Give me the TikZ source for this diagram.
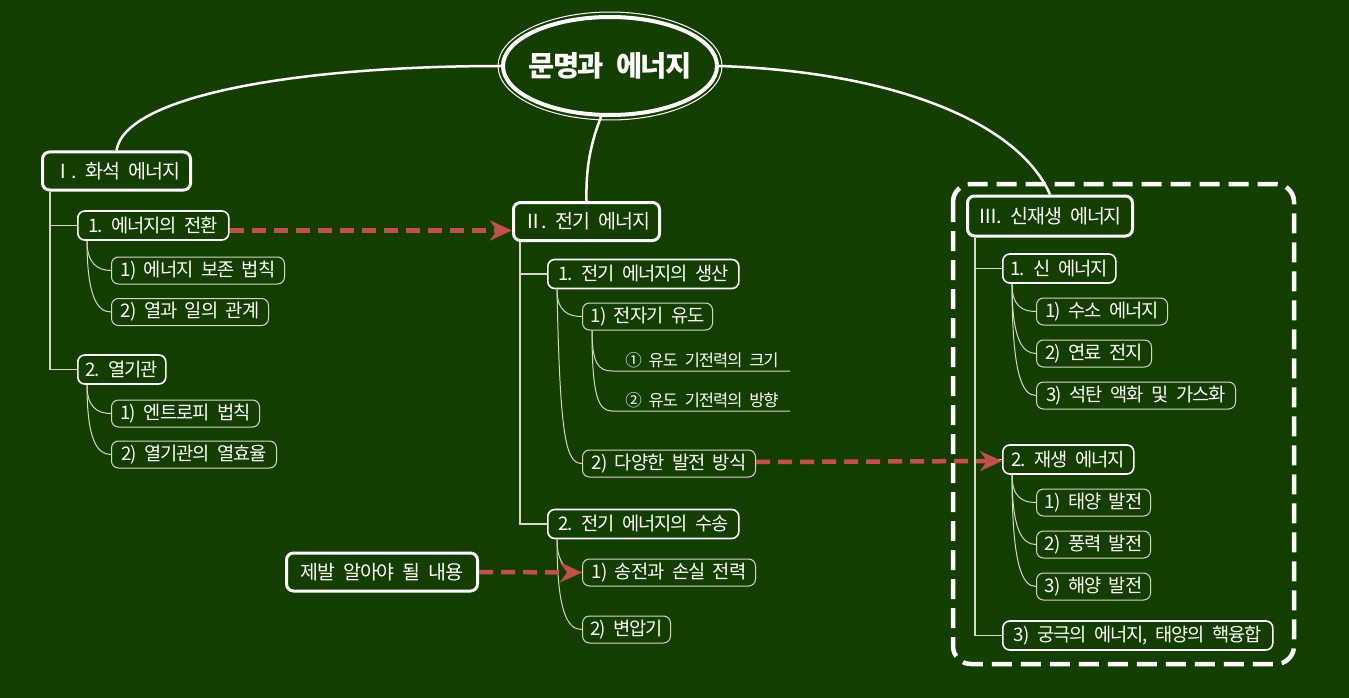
\documentclass[tikz,border=0pt]{standalone}
\usepackage{fontspec}
\setmainfont{Noto Sans CJK KR}[WordSpace=2.5,LetterSpace=-6]
\usetikzlibrary{arrows.meta,shapes.geometric}
\definecolor{bg}{RGB}{20,62,0}
\definecolor{arr}{RGB}{192,80,77}
\definecolor{lgrey}{RGB}{215,215,200}
\begin{document}
\begin{tikzpicture}[x=1pt,y=-1pt,
  every node/.style={text=white,inner sep=0pt},
  topbox/.style={draw=white,line width=3pt,rounded corners=7pt,anchor=west,minimum height=38pt,font=\fontsize{19.5}{22}\selectfont},
  midbox/.style={draw=white,line width=1.6pt,rounded corners=7pt,anchor=west,minimum height=29pt,font=\fontsize{18.7}{21}\selectfont},
  lowbox/.style={draw=lgrey,line width=1pt,rounded corners=7pt,anchor=west,minimum height=27pt,font=\fontsize{18.7}{21}\selectfont},
  lbl/.style={anchor=south,inner sep=3pt,font=\fontsize{16.5}{19}\selectfont},
  tree/.style={draw=lgrey,line width=1.3pt},
  twig/.style={draw=lgrey,line width=1pt},
  rootline/.style={draw=white,line width=2.5pt},
  link/.style={draw=arr,line width=4.5pt,dash pattern=on 14pt off 8pt,-{Stealth[length=22pt,width=20pt,inset=7pt]}},
]
\useasboundingbox (0,0) rectangle (1349,698);
\fill[bg] (0,0) rectangle (1349,698);

% renewable boundary
\draw[white,line width=4.5pt,dash pattern=on 20pt off 9pt,rounded corners=18pt]
  (953,184) rectangle (1294,664);

% root
\node[ellipse,draw=white,line width=4pt,minimum width=214pt,minimum height=98pt] (root) at (610,66) {};
\draw[white,line width=1pt] (root.center) ellipse [x radius=112pt,y radius=54pt];
\node[font=\fontsize{28.5}{32}\selectfont\bfseries] (rootlbl) at (root.center) {문명과 에너지};

% I
\node[topbox,minimum width=148pt] (f) at (41,171) {Ⅰ. 화석 에너지};
\node[midbox,minimum width=151pt] (f1) at (77,225.5) {1. 에너지의 전환};
\node[lowbox,minimum width=173pt] (f1a) at (111,270.5) {1) 에너지 보존 법칙};
\node[lowbox,minimum width=157pt] (f1b) at (111,312) {2) 열과 일의 관계};
\node[midbox,minimum width=88pt] (f2) at (77,369.5) {2. 열기관};
\node[lowbox,minimum width=148pt] (f2a) at (111,413.5) {1) 엔트로피 법칙};
\node[lowbox,minimum width=165pt] (f2b) at (111,454.5) {2) 열기관의 열효율};

% II
\node[topbox,minimum width=146pt] (e) at (512,221.5) {Ⅱ. 전기 에너지};
\node[midbox,minimum width=191pt] (e1) at (547,274) {1. 전기 에너지의 생산};
\node[lowbox,minimum width=130pt] (e1a) at (582,316.5) {1) 전자기 유도};
\coordinate (u1s) at (612,371);
\coordinate (u1e) at (790,371);
\coordinate (u2s) at (612,411);
\coordinate (u2e) at (790,411);
\node[lbl] (k1) at (702,371) {① 유도 기전력의 크기};
\node[lbl] (k2) at (702,411) {② 유도 기전력의 방향};
\node[lowbox,minimum width=173pt] (e1b) at (582,463.5) {2) 다양한 발전 방식};
\node[midbox,minimum width=191pt] (e2) at (547,524) {2. 전기 에너지의 수송};
\node[lowbox,minimum width=173pt] (e2a) at (582,572.5) {1) 송전과 손실 전력};
\node[lowbox,minimum width=88pt] (e2b) at (582,629.5) {2) 변압기};
\node[topbox,minimum width=191pt] (must) at (285,572) {제발 알아야 될 내용};

% III
\node[topbox,minimum width=165pt,minimum height=40pt] (n) at (966,216) {Ⅲ. 신재생 에너지};
\node[midbox,minimum width=113pt] (n1) at (1002,268.5) {1. 신 에너지};
\node[lowbox,minimum width=131pt] (n1a) at (1036,311.5) {1) 수소 에너지};
\node[lowbox,minimum width=115pt] (n1b) at (1036,353.5) {2) 연료 전지};
\node[lowbox,minimum width=199pt] (n1c) at (1036,395.5) {3) 석탄 액화 및 가스화};
\node[midbox,minimum width=131pt] (n2) at (1002,459.5) {2. 재생 에너지};
\node[lowbox,minimum width=114pt] (n2a) at (1036,502.5) {1) 태양 발전};
\node[lowbox,minimum width=114pt] (n2b) at (1036,544.5) {2) 풍력 발전};
\node[lowbox,minimum width=114pt] (n2c) at (1036,586.5) {3) 해양 발전};
\node[midbox,minimum width=270pt] (n3) at (1002,635.5) {3) 궁극의 에너지, 태양의 핵융합};

% root connectors
\draw[rootline] (root.west) .. controls (300,66) and (125,95) .. (f.north);
\draw[rootline] (root.260) .. controls (588,150) and (586,175) .. (e.north);
\draw[rootline] (root.east) .. controls (900,72) and (1020,125) .. (n.north);

% trees
\draw[tree] ([xshift=9pt]f.south west) |- (f1.west);
\draw[tree] ([xshift=9pt]f.south west) |- (f2.west);
\draw[tree] ([xshift=8pt]e.south west) |- (e1.west);
\draw[tree] ([xshift=8pt]e.south west) |- (e2.west);
\draw[tree] ([xshift=9pt]n.south west) |- (n1.west);
\draw[tree] ([xshift=9pt]n.south west) |- (n2.west);
\draw[tree] ([xshift=9pt]n.south west) |- (n3.west);

% twigs
\draw[twig] ([xshift=10pt]f1.south west) .. controls +(0,22) and +(-14,0) .. (f1a.west);
\draw[twig] ([xshift=10pt]f1.south west) .. controls +(0,55) and +(-14,0) .. (f1b.west);
\draw[twig] ([xshift=10pt]f2.south west) .. controls +(0,22) and +(-14,0) .. (f2a.west);
\draw[twig] ([xshift=10pt]f2.south west) .. controls +(0,55) and +(-14,0) .. (f2b.west);

\draw[twig] ([xshift=10pt]e1.south west) .. controls +(0,22) and +(-14,0) .. (e1a.west);
\draw[twig] ([xshift=10pt]e1.south west) .. controls +(3,150) and +(-16,0) .. (e1b.west);
\draw[twig] ([xshift=10pt]e1a.south west) .. controls +(0,32) and +(-14,0) .. (u1s) -- (u1e);
\draw[twig] ([xshift=10pt]e1a.south west) .. controls +(0,65) and +(-14,0) .. (u2s) -- (u2e);
\draw[twig] ([xshift=10pt]e2.south west) .. controls +(0,26) and +(-14,0) .. (e2a.west);
\draw[twig] ([xshift=10pt]e2.south west) .. controls +(0,75) and +(-14,0) .. (e2b.west);

\draw[twig] ([xshift=10pt]n1.south west) .. controls +(0,22) and +(-14,0) .. (n1a.west);
\draw[twig] ([xshift=10pt]n1.south west) .. controls +(0,55) and +(-14,0) .. (n1b.west);
\draw[twig] ([xshift=10pt]n1.south west) .. controls +(0,90) and +(-14,0) .. (n1c.west);
\draw[twig] ([xshift=10pt]n2.south west) .. controls +(0,22) and +(-14,0) .. (n2a.west);
\draw[twig] ([xshift=10pt]n2.south west) .. controls +(0,55) and +(-14,0) .. (n2b.west);
\draw[twig] ([xshift=10pt]n2.south west) .. controls +(0,90) and +(-14,0) .. (n2c.west);

% links
\draw[link] ([yshift=-5pt]f1.east) -- ([yshift=-5pt]f1.east -| e.west);
\draw[link] ([yshift=1.5pt]e1b.east) -- ([yshift=-1.5pt]n2.west);
\draw[link] (must.east) -- (e2a.west);
\end{tikzpicture}
\end{document}
